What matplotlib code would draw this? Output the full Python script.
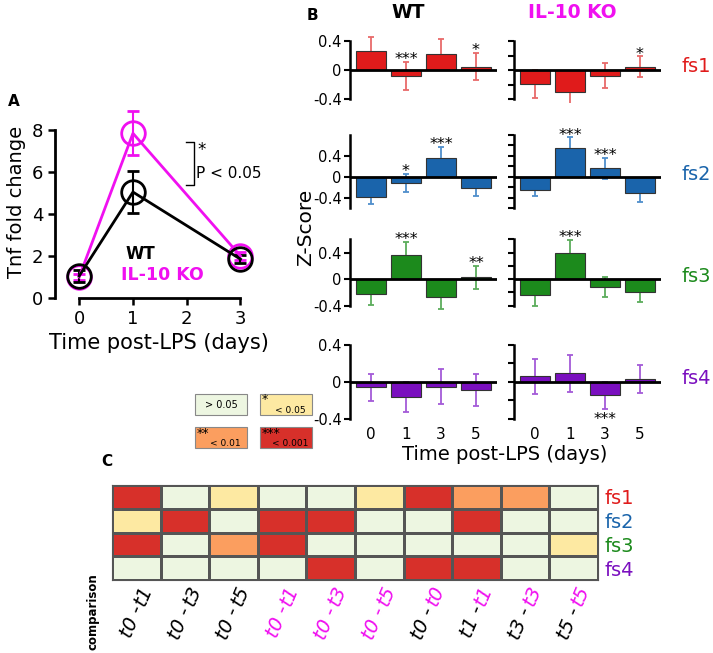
import numpy as np
import matplotlib
matplotlib.use("Agg")
import matplotlib.pyplot as plt
from matplotlib.colors import ListedColormap
from matplotlib.patches import Rectangle
from matplotlib.textpath import TextPath
from matplotlib.font_manager import FontProperties

W, H = 713, 653
MAG = "#f010f0"

# ---- panel A data: Tnf fold change
days_a = [0, 1, 3]
wt_tnf = [1.05, 5.05, 1.85]
wt_tnf_err = [0.3, 1.0, 0.2]
ko_tnf = [1.0, 7.85, 2.0]
ko_tnf_err = [0.15, 1.05, 0.2]

# ---- panel B data: z-scores per state (rows) and day (cols)
states = ["fs1", "fs2", "fs3", "fs4"]
state_colors = ["#e01b1b", "#1a64ab", "#1c8a1c", "#7a0fbf"]
err_colors = ["#e86a6a", "#4f8fcc", "#5cad5c", "#a45ad8"]
times_b = ["0", "1", "3", "5"]

wt_mean = [[0.26, -0.08, 0.225, 0.046],
           [-0.38, -0.115, 0.37, -0.21],
           [-0.225, 0.364, -0.267, 0.026],
           [-0.057, -0.163, -0.05, -0.085]]
wt_err = [[0.19, 0.19, 0.2, 0.19],
          [0.14, 0.18, 0.2, 0.16],
          [0.165, 0.195, 0.18, 0.175],
          [0.145, 0.163, 0.186, 0.175]]
ko_mean = [[-0.19, -0.30, -0.076, 0.044],
           [-0.24, 0.56, 0.168, -0.305],
           [-0.244, 0.395, -0.122, -0.195],
           [0.06, 0.092, -0.145, 0.032]]
ko_err = [[0.19, 0.18, 0.17, 0.145],
          [0.13, 0.2, 0.2, 0.17],
          [0.166, 0.195, 0.155, 0.15],
          [0.185, 0.195, 0.145, 0.15]]
wt_stars = [["", "***", "", "*"],
            ["", "*", "***", ""],
            ["", "***", "", "**"],
            ["", "", "", ""]]
ko_stars = [["", "", "", "*"],
            ["", "***", "***", ""],
            ["", "***", "", ""],
            ["", "", "***", ""]]
ko_star_below = [[False] * 4, [False] * 4, [False] * 4, [False, False, True, False]]

row_ylim = [(-0.45, 0.6), (-0.65, 0.85), (-0.45, 0.65), (-0.45, 0.45)]
row_bounds = [(-0.4, 0.4), (-0.6, 0.8), (-0.4, 0.6), (-0.4, 0.4)]
row_zero_px = [70, 177, 279, 382]
row_scale = [72.5, 52.5, 66.25, 92.5]

# ---- panel C data: significance level of each comparison
comp_left = ["t0 -", "t0 -", "t0 -", "t0 -", "t0 -", "t0 -", "t0 -", "t1 -", "t3 -", "t5 -"]
comp_right = ["t1", "t3", "t5", "t1", "t3", "t5", "t0", "t1", "t3", "t5"]
left_colors = ["black"] * 3 + [MAG] * 3 + ["black"] * 4
right_colors = ["black"] * 3 + [MAG] * 7
sig_level = [[3, 0, 1, 0, 0, 1, 3, 2, 2, 0],
             [1, 3, 0, 3, 3, 0, 0, 3, 0, 0],
             [3, 0, 2, 3, 0, 0, 0, 0, 0, 1],
             [0, 0, 0, 0, 3, 0, 3, 3, 0, 0]]
level_colors = ["#edf6e1", "#fde9a2", "#fb9e5f", "#d7302a"]
level_text = ["> 0.05", "< 0.05", "< 0.01", "< 0.001"]
level_stars = ["", "*", "**", "***"]

fig = plt.figure(figsize=(W / 100, H / 100), dpi=100)


def px_ax(l, t, r, b):
    return fig.add_axes([l / W, 1 - b / H, (r - l) / W, (b - t) / H])


# overlay for letters, legend boxes and shared labels
ov = fig.add_axes([0, 0, 1, 1])
ov.set_xlim(0, W)
ov.set_ylim(H, 0)
ov.axis("off")

# ---------------- Panel A
axA = px_ax(55, 105, 262, 298)
axA.errorbar(days_a, ko_tnf, yerr=ko_tnf_err, color=MAG, marker="o", ms=17,
             mfc="none", mew=2, lw=2, capsize=4, capthick=1.5, elinewidth=1.5, clip_on=False)
axA.errorbar(days_a, wt_tnf, yerr=wt_tnf_err, color="black", marker="o", ms=17,
             mfc="none", mew=2, lw=2, capsize=4, capthick=1.5, elinewidth=1.5, clip_on=False)
axA.set_xlim(-0.45, 3.4)
axA.set_ylim(0, 9.2)
for s in ["top", "right"]:
    axA.spines[s].set_visible(False)
axA.spines["left"].set_bounds(0, 8)
axA.spines["bottom"].set_bounds(0, 3)
for s in ["left", "bottom"]:
    axA.spines[s].set_linewidth(2)
axA.set_xticks([0, 1, 2, 3])
axA.set_yticks([0, 2, 4, 6, 8])
axA.tick_params(direction="out", length=5, width=1.8, labelsize=13)
axA.set_ylabel("Tnf fold change", fontsize=14, labelpad=4)
axA.set_xlabel("Time post-LPS (days)", fontsize=15, labelpad=4)
axA.plot([1.99, 2.14, 2.14, 1.99], [7.43, 7.43, 5.38, 5.38], color="black", lw=1)
axA.text(2.2, 7.05, "*", fontsize=12, ha="left", va="center")
axA.text(2.18, 5.95, "P < 0.05", fontsize=11, ha="left", va="center")
axA.text(0.86, 2.1, "WT", fontsize=12, fontweight="bold", ha="left", va="center")
axA.text(0.77, 1.1, "IL-10 KO", fontsize=12.5, fontweight="bold", color=MAG, ha="left", va="center")

# ---------------- Panel B
x_b = np.arange(len(times_b))
for r in range(4):
    lo, hi = row_ylim[r]
    top = row_zero_px[r] - hi * row_scale[r]
    bot = row_zero_px[r] - lo * row_scale[r]
    for g, (left, right) in enumerate([(350, 497), (514, 661)]):
        ax = px_ax(left, top, right, bot)
        means = wt_mean[r] if g == 0 else ko_mean[r]
        errs = wt_err[r] if g == 0 else ko_err[r]
        stars = wt_stars[r] if g == 0 else ko_stars[r]
        ax.errorbar(x_b, means, yerr=errs, fmt="none", ecolor=err_colors[r],
                    elinewidth=1.3, capsize=2.5, capthick=1.3, zorder=1)
        ax.bar(x_b, means, width=0.85, color=state_colors[r], edgecolor="#333333",
               linewidth=0.8, zorder=2)
        ax.axhline(0, color="black", lw=2, zorder=3)
        for i, st in enumerate(stars):
            if not st:
                continue
            if g == 1 and ko_star_below[r][i]:
                ax.annotate(st, (x_b[i], means[i] - errs[i]), xytext=(0, -7.5),
                            textcoords="offset points", ha="center", va="center",
                            fontsize=11, annotation_clip=False)
            else:
                ax.annotate(st, (x_b[i], means[i] + errs[i]), xytext=(0, 1.5),
                            textcoords="offset points", ha="center", va="center",
                            fontsize=11.5, annotation_clip=False)
        ax.set_xlim(-0.6, 3.6)
        ax.set_ylim(lo, hi)
        for s in ["top", "right", "bottom"]:
            ax.spines[s].set_visible(False)
        ax.spines["left"].set_bounds(*row_bounds[r])
        ax.spines["left"].set_linewidth(1.8)
        if g == 0:
            ax.set_yticks([-0.4, 0, 0.4])
            ax.set_yticklabels(["-0.4", "0", "0.4"])
        else:
            b0, b1 = row_bounds[r]
            ax.set_yticks(np.round(np.arange(b0, b1 + 0.01, 0.2), 2))
            ax.set_yticklabels([])
        ax.tick_params(axis="y", direction="out", length=4, width=1.5, labelsize=10.5, pad=2)
        if r == 3:
            ax.set_xticks(x_b)
            ax.set_xticklabels(times_b)
            ax.tick_params(axis="x", length=0, labelsize=11, pad=2.5)
        else:
            ax.set_xticks([])
    ov.text(682, row_zero_px[r] - 3, states[r], color=state_colors[r], fontsize=14,
            ha="left", va="center")

ov.text(408, 12, "WT", fontsize=13.5, fontweight="bold", ha="center", va="center")
ov.text(572, 12, "IL-10 KO", fontsize=13.5, fontweight="bold", color=MAG, ha="center", va="center")
ov.text(306, 227, "Z-Score", fontsize=14.5, rotation=90, ha="center", va="center")
ov.text(505, 455, "Time post-LPS (days)", fontsize=14, ha="center", va="center")

# panel letters
ov.text(8, 102, "A", fontsize=11, fontweight="bold", ha="left", va="center")
ov.text(312, 16, "B", fontsize=11, fontweight="bold", ha="center", va="center")
ov.text(107, 462, "C", fontsize=11, fontweight="bold", ha="center", va="center")

# significance legend boxes
box_pos = [(195, 394), (260, 394), (195, 427), (260, 427)]
for k, (bx, by) in enumerate(box_pos):
    ov.add_patch(Rectangle((bx, by), 52, 21, facecolor=level_colors[k],
                           edgecolor="#888888", lw=0.8))
    if level_stars[k]:
        ov.text(bx + 2, by - 0.5, level_stars[k], fontsize=9, ha="left", va="top")
        ov.text(bx + 30, by + 16.5, level_text[k], fontsize=6.5, ha="center", va="center")
    else:
        ov.text(bx + 26, by + 11, level_text[k], fontsize=7, ha="center", va="center")

# ---------------- Panel C
axC = px_ax(112, 485, 598, 580)
cmap = ListedColormap(level_colors)
axC.pcolormesh(np.array(sig_level), cmap=cmap, vmin=-0.5, vmax=3.5,
               edgecolors="#555555", linewidth=0.8)
axC.set_xlim(0, 10)
axC.set_ylim(4, 0)
axC.set_xticks([])
axC.yaxis.tick_right()
axC.set_yticks(np.arange(4) + 0.5)
axC.set_yticklabels(states, fontsize=14)
for lab, c in zip(axC.get_yticklabels(), state_colors):
    lab.set_color(c)
axC.tick_params(axis="y", length=0, pad=5)
for s in axC.spines.values():
    s.set_color("#555555")

# two-coloured comparison labels: second time point is drawn first, the first
# part is shifted back along the text direction by the width of the second
fp_lab = FontProperties(family="DejaVu Sans", style="italic", size=14)
ang = 67
ca, sa = np.cos(np.radians(ang)), np.sin(np.radians(ang))
gap = 4.5
for j in range(10):
    base = (j + 0.5, 4)
    bx, by = 8, -4.5
    axC.annotate(comp_right[j], base, xytext=(bx, by), textcoords="offset points",
                 rotation=ang, rotation_mode="anchor", ha="right", va="center",
                 fontproperties=fp_lab, color=right_colors[j], annotation_clip=False)
    shift = TextPath((0, 0), comp_right[j], prop=fp_lab).get_extents().width + gap
    axC.annotate(comp_left[j], base, xytext=(bx - shift * ca, by - shift * sa),
                 textcoords="offset points", rotation=ang, rotation_mode="anchor",
                 ha="right", va="center", fontproperties=fp_lab, color=left_colors[j],
                 annotation_clip=False)

ov.text(93, 612, "comparison", fontsize=8.5, fontweight="bold", rotation=90,
        ha="center", va="center")

fig.savefig("out.png", dpi=100)
